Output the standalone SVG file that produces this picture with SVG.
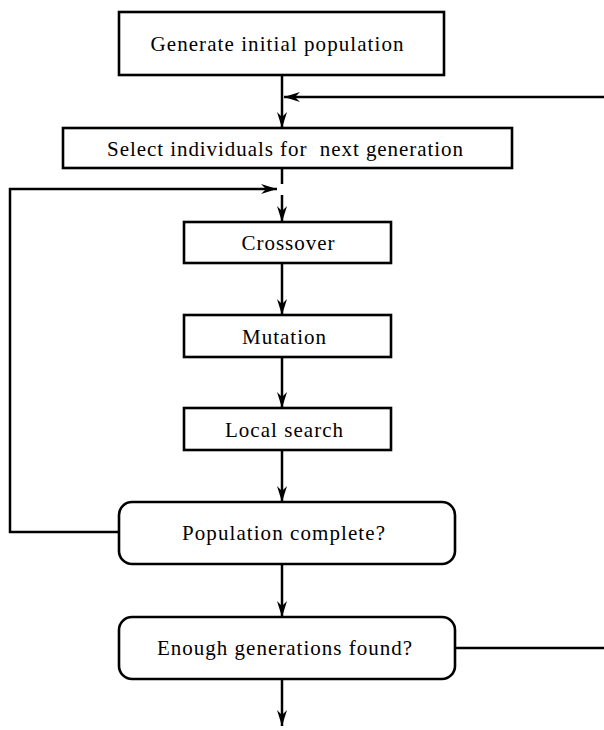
<svg xmlns="http://www.w3.org/2000/svg" width="604" height="730" viewBox="0 0 604 730">
<defs>
<style>
.box{fill:#fff;stroke:#000;stroke-width:2.6}
.lbl{font-family:"Liberation Serif","Times New Roman",serif;font-size:21px;fill:#000;text-anchor:middle}
.ln{fill:none;stroke:#000;stroke-width:2.5}
</style>
<marker id="ah" viewBox="0 0 16 10" refX="16" refY="5" markerWidth="16" markerHeight="10" orient="auto" markerUnits="userSpaceOnUse">
<path d="M0,0 L16,5 L0,10 L5,5 z" fill="#000"/>
</marker>
</defs>
<rect width="604" height="730" fill="#fff"/>
<g id="connectors">
<line class="ln" x1="282" y1="75" x2="282" y2="128" marker-end="url(#ah)"/>
<polyline class="ln" points="610,97 284,97" marker-end="url(#ah)"/>
<line class="ln" x1="282" y1="168" x2="282" y2="184"/>
<line class="ln" x1="282" y1="195" x2="282" y2="222" marker-end="url(#ah)"/>
<polyline class="ln" points="119,532 10,532 10,189 277,189" marker-end="url(#ah)"/>
<line class="ln" x1="282" y1="263" x2="282" y2="315" marker-end="url(#ah)"/>
<line class="ln" x1="282" y1="357" x2="282" y2="408" marker-end="url(#ah)"/>
<line class="ln" x1="282" y1="450" x2="282" y2="502" marker-end="url(#ah)"/>
<line class="ln" x1="282" y1="564" x2="282" y2="617" marker-end="url(#ah)"/>
<line class="ln" x1="282" y1="679" x2="282" y2="726" marker-end="url(#ah)"/>
<polyline class="ln" points="455,648 610,648 610,97"/>
</g>
<g id="n1">
<rect class="box" x="119" y="12" width="325" height="63"/>
<text class="lbl" x="277" y="51" textLength="253" lengthAdjust="spacing">Generate initial population</text>
</g>
<g id="n2">
<rect class="box" x="63" y="128" width="449" height="40"/>
<text class="lbl" x="285" y="156" textLength="356" lengthAdjust="spacing">Select individuals for&#160; next generation</text>
</g>
<g id="n3">
<rect class="box" x="184" y="222" width="207" height="41"/>
<text class="lbl" x="288" y="250" textLength="93" lengthAdjust="spacing">Crossover</text>
</g>
<g id="n4">
<rect class="box" x="184" y="315" width="207" height="42"/>
<text class="lbl" x="284" y="344" textLength="84" lengthAdjust="spacing">Mutation</text>
</g>
<g id="n5">
<rect class="box" x="184" y="408" width="207" height="42"/>
<text class="lbl" x="284" y="437" textLength="118" lengthAdjust="spacing">Local search</text>
</g>
<g id="n6">
<rect class="box" x="119" y="502" width="336" height="62" rx="13"/>
<text class="lbl" x="283.5" y="540" textLength="203" lengthAdjust="spacing">Population complete?</text>
</g>
<g id="n7">
<rect class="box" x="119" y="617" width="336" height="62" rx="13"/>
<text class="lbl" x="284.5" y="655" textLength="255" lengthAdjust="spacing">Enough generations found?</text>
</g>
</svg>
